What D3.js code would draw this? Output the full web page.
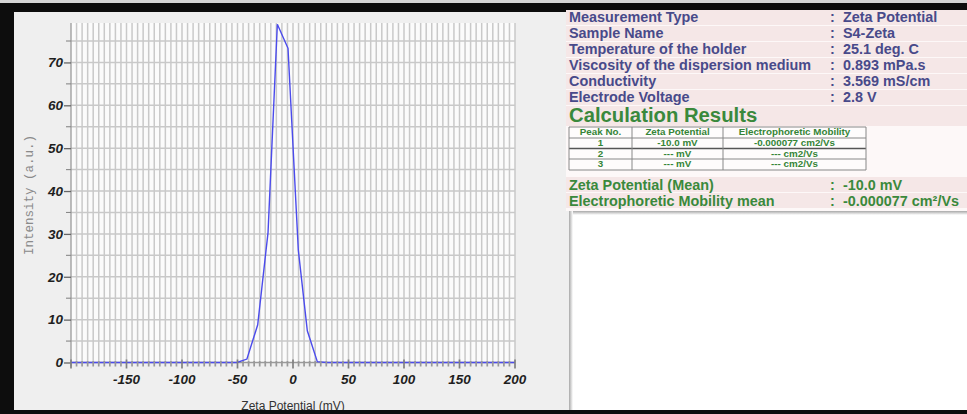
<!DOCTYPE html>
<html>
<head>
<meta charset="utf-8">
<script src="https://cdnjs.cloudflare.com/ajax/libs/d3/7.8.5/d3.min.js"></script>
<style>
  html, body { margin: 0; padding: 0; background: #111; overflow: hidden; }
  svg { display: block; }
  .tick-label { font-family: "Liberation Sans", Arial, sans-serif; font-weight: bold; font-style: italic; font-size: 13.5px; fill: #1e1e1e; }
  .info { font-family: "Liberation Sans", Arial, sans-serif; font-weight: bold; font-size: 14.4px; }
  .cell { font-family: "Liberation Sans", Arial, sans-serif; font-weight: bold; font-size: 9.8px; fill: #358537; }
</style>
</head>
<body>
<div class="chart"></div>
<script>
// ---- data ----
var zeta = [-200, -50.5, -41.5, -31.8, -22.5, -14.1, -4.5, 4.8, 12.9, 21.9, 30.3, 200];
var intensity = [0, 0, 0.8, 8.8, 30.3, 78.9, 73.3, 26.2, 7.4, 0.2, 0, 0];

var xTickValues = [-150, -100, -50, 0, 50, 100, 150, 200];
var yTickValues = [0, 10, 20, 30, 40, 50, 60, 70];

var infoLabels = ["Measurement Type", "Sample Name", "Temperature of the holder",
  "Viscosity of the dispersion medium", "Conductivity", "Electrode Voltage"];
var infoValues = ["Zeta Potential", "S4-Zeta", "25.1 deg. C", "0.893 mPa.s", "3.569 mS/cm", "2.8 V"];

var peakHeader = ["Peak No.", "Zeta Potential", "Electrophoretic Mobility"];
var peakNo = ["1", "2", "3"];
var peakZeta = ["-10.0 mV", "--- mV", "--- mV"];
var peakMobility = ["-0.000077 cm2/Vs", "--- cm2/Vs", "--- cm2/Vs"];

var meanLabels = ["Zeta Potential (Mean)", "Electrophoretic Mobility mean"];
var meanValues = ["-10.0 mV", "-0.000077 cm\u00B2/Vs"];

function drawChart() {
  var W = 967, H = 414;
  var blue = "#4b4bec", green = "#3a893c", navy = "#484a8a";

  var svg = d3.select(".chart").append("svg")
    .attr("width", W)
    .attr("height", H);

  var defs = svg.append("defs");
  var gTop = defs.append("linearGradient").attr("id", "shadeTop").attr("x1", 0).attr("y1", 0).attr("x2", 0).attr("y2", 1);
  gTop.append("stop").attr("offset", "0%").attr("stop-color", "#a8a8a8");
  gTop.append("stop").attr("offset", "100%").attr("stop-color", "#ffffff");
  var gLeft = defs.append("linearGradient").attr("id", "shadeLeft").attr("x1", 0).attr("y1", 0).attr("x2", 1).attr("y2", 0);
  gLeft.append("stop").attr("offset", "0%").attr("stop-color", "#a8a8a8");
  gLeft.append("stop").attr("offset", "100%").attr("stop-color", "#ffffff");

  // frame and panels
  svg.append("rect").attr("width", W).attr("height", H).attr("fill", "#0d0d0d");
  svg.append("rect").attr("width", W).attr("height", 3).attr("fill", "#d6d6d6");
  svg.append("rect").attr("x", 14).attr("y", 12).attr("width", 555).attr("height", 398).attr("fill", "#efefef");
  svg.append("rect").attr("x", 566).attr("y", 12).attr("width", W - 566).attr("height", 199).attr("fill", "#fdf8f8");
  svg.append("rect").attr("x", 569).attr("y", 211).attr("width", W - 569).attr("height", 199).attr("fill", "#ffffff");
  svg.append("rect").attr("x", 569).attr("y", 211).attr("width", W - 569).attr("height", 4).attr("fill", "url(#shadeTop)");
  svg.append("rect").attr("x", 569).attr("y", 211).attr("width", 4).attr("height", 199).attr("fill", "url(#shadeLeft)");

  // ---- plot ----
  var x = d3.scaleLinear().domain([-200, 200]).range([71, 515]);
  var y = d3.scaleLinear().domain([0, 79.2]).range([362.5, 23]);

  svg.append("rect")
    .attr("x", x(-200)).attr("y", y(79.2))
    .attr("width", x(200) - x(-200)).attr("height", y(0) - y(79.2))
    .attr("fill", "#fbfbfb");

  var grid = svg.append("g").attr("stroke", "#c9c9c9").attr("stroke-width", 1.5);
  grid.selectAll(".vgrid")
    .data(d3.range(-195, 201, 5))
    .enter().append("line")
      .attr("x1", function(d) { return x(d); })
      .attr("x2", function(d) { return x(d); })
      .attr("y1", y(79.2))
      .attr("y2", y(0));
  grid.selectAll(".hgrid")
    .data(d3.range(5, 80, 5))
    .enter().append("line")
      .attr("x1", x(-200))
      .attr("x2", x(200))
      .attr("y1", function(d) { return y(d); })
      .attr("y2", function(d) { return y(d); });

  // y axis
  var yAxis = d3.axisLeft(y)
    .tickValues(yTickValues)
    .tickSize(7)
    .tickPadding(1)
    .tickFormat(d3.format("d"));
  var gy = svg.append("g")
    .attr("transform", "translate(" + x(-200) + ",0)")
    .call(yAxis);
  gy.select(".domain").attr("stroke", "#9a9a9a").attr("stroke-width", 1.3).attr("d", "M0," + y(79.2) + "V" + (y(0) + 4));
  gy.selectAll(".tick line").attr("stroke", "#666").attr("stroke-width", 1.3);
  gy.selectAll(".tick text").attr("class", "tick-label").attr("font-size", null).attr("font-family", null);
  svg.append("g").selectAll("line")
    .data(d3.range(5, 80, 10))
    .enter().append("line")
      .attr("x1", x(-200) - 5).attr("x2", x(-200))
      .attr("y1", function(d) { return y(d); })
      .attr("y2", function(d) { return y(d); })
      .attr("stroke", "#888").attr("stroke-width", 1.1);

  // x axis line
  svg.append("line")
    .attr("x1", x(-200)).attr("x2", x(200))
    .attr("y1", y(0)).attr("y2", y(0))
    .attr("stroke", "#9a9a9a").attr("stroke-width", 1.3);

  // data line
  var points = zeta.map(function(d, i) { return [d, intensity[i]]; });
  var line = d3.line()
    .x(function(d) { return x(d[0]); })
    .y(function(d) { return y(d[1]); });
  svg.append("path")
    .datum(points)
    .attr("d", line)
    .attr("fill", "none")
    .attr("stroke", blue)
    .attr("stroke-width", 1.4);

  // x ticks drawn over the line
  svg.append("g").selectAll("line")
    .data(d3.range(-200, 201, 5))
    .enter().append("line")
      .attr("x1", function(d) { return x(d); })
      .attr("x2", function(d) { return x(d); })
      .attr("y1", function(d) { return d % 50 === 0 ? y(0) - 3 : y(0) - 1.5; })
      .attr("y2", function(d) { return d % 50 === 0 ? y(0) + 6 : y(0) + 4; })
      .attr("stroke", function(d) { return d % 50 === 0 ? "#808080" : "#999"; })
      .attr("stroke-width", 1.7);

  svg.append("g").selectAll("text")
    .data(xTickValues)
    .enter().append("text")
      .attr("class", "tick-label")
      .attr("x", function(d) { return x(d); })
      .attr("y", y(0) + 21)
      .attr("text-anchor", "middle")
      .text(function(d) { return d; });

  svg.append("text")
    .attr("x", x(0))
    .attr("y", 410)
    .attr("text-anchor", "middle")
    .style("font-family", "'Liberation Sans', Arial, sans-serif")
    .style("font-size", "12px")
    .style("fill", "#333")
    .text("Zeta Potential (mV)");

  svg.append("text")
    .attr("transform", "translate(33,195) rotate(-90)")
    .attr("text-anchor", "middle")
    .style("font-family", "'Liberation Mono', 'DejaVu Sans Mono', monospace")
    .style("font-size", "12.5px")
    .style("fill", "#8a8a8a")
    .text("Intensity (a.u.)");

  // ---- right info panel ----
  var rowY = 22, rowH = 16;
  svg.append("g").selectAll("rect")
    .data(infoLabels)
    .enter().append("rect")
      .attr("x", 566)
      .attr("y", function(d, i) { return rowY - 12 + i * rowH; })
      .attr("width", W - 566)
      .attr("height", rowH - 1)
      .attr("fill", "#f5e7e7");

  svg.append("g").selectAll("text")
    .data(infoLabels)
    .enter().append("text")
      .attr("class", "info")
      .attr("x", 569)
      .attr("y", function(d, i) { return rowY + i * rowH; })
      .attr("fill", navy)
      .text(function(d) { return d; });

  svg.append("g").selectAll("text")
    .data(infoValues)
    .enter().append("text")
      .attr("class", "info")
      .attr("x", 830)
      .attr("y", function(d, i) { return rowY + i * rowH; })
      .attr("fill", navy)
      .text(":");
  svg.append("g").selectAll("text")
    .data(infoValues)
    .enter().append("text")
      .attr("class", "info")
      .attr("x", 843)
      .attr("y", function(d, i) { return rowY + i * rowH; })
      .attr("fill", navy)
      .text(function(d) { return d; });

  svg.append("rect").attr("x", 566).attr("y", 106).attr("width", W - 566).attr("height", 20).attr("fill", "#f5e7e7");
  svg.append("text")
    .attr("x", 569)
    .attr("y", 121.5)
    .style("font-family", "'Liberation Sans', Arial, sans-serif")
    .style("font-weight", "bold")
    .style("font-size", "20.3px")
    .style("fill", green)
    .text("Calculation Results");

  // peak table
  var colX = [569, 632, 723, 866];
  var lineY = [127, 138, 148.5, 159, 170];
  var table = svg.append("g");
  table.append("rect")
    .attr("x", colX[0]).attr("y", lineY[0])
    .attr("width", colX[3] - colX[0]).attr("height", lineY[4] - lineY[0])
    .attr("fill", "#fefcfc");
  table.selectAll(".hl")
    .data(lineY)
    .enter().append("line")
      .attr("x1", colX[0]).attr("x2", colX[3])
      .attr("y1", function(d) { return d; }).attr("y2", function(d) { return d; })
      .attr("stroke", function(d, i) { return i === 2 ? "#555" : "#888"; })
      .attr("stroke-width", function(d, i) { return i === 2 ? 1.6 : 1; });
  table.selectAll(".vl")
    .data(colX)
    .enter().append("line")
      .attr("x1", function(d) { return d; }).attr("x2", function(d) { return d; })
      .attr("y1", lineY[0]).attr("y2", lineY[4])
      .attr("stroke", "#888").attr("stroke-width", 1);

  var tableRows = [peakHeader].concat(peakNo.map(function(d, i) { return [d, peakZeta[i], peakMobility[i]]; }));
  tableRows.forEach(function(row, r) {
    row.forEach(function(txt, c) {
      table.append("text")
        .attr("class", "cell")
        .attr("x", (colX[c] + colX[c + 1]) / 2)
        .attr("y", lineY[r] + 8.3)
        .attr("text-anchor", "middle")
        .text(txt);
    });
  });

  // means
  svg.append("g").selectAll("rect")
    .data(meanLabels)
    .enter().append("rect")
      .attr("x", 566)
      .attr("y", function(d, i) { return 177 + i * rowH; })
      .attr("width", W - 566)
      .attr("height", rowH - 1)
      .attr("fill", "#f5e7e7");
  svg.append("g").selectAll("text")
    .data(meanLabels)
    .enter().append("text")
      .attr("class", "info")
      .attr("x", 569)
      .attr("y", function(d, i) { return 190 + i * rowH; })
      .attr("fill", green)
      .text(function(d) { return d; });
  svg.append("g").selectAll("text")
    .data(meanValues)
    .enter().append("text")
      .attr("class", "info")
      .attr("x", 830)
      .attr("y", function(d, i) { return 190 + i * rowH; })
      .attr("fill", green)
      .text(":");
  svg.append("g").selectAll("text")
    .data(meanValues)
    .enter().append("text")
      .attr("class", "info")
      .attr("x", 843)
      .attr("y", function(d, i) { return 190 + i * rowH; })
      .attr("fill", green)
      .text(function(d) { return d; });

  // bottom black band on top of everything
  svg.append("rect").attr("x", 0).attr("y", 410).attr("width", W).attr("height", 4).attr("fill", "#0d0d0d");
}

drawChart();
</script>
</body>
</html>
